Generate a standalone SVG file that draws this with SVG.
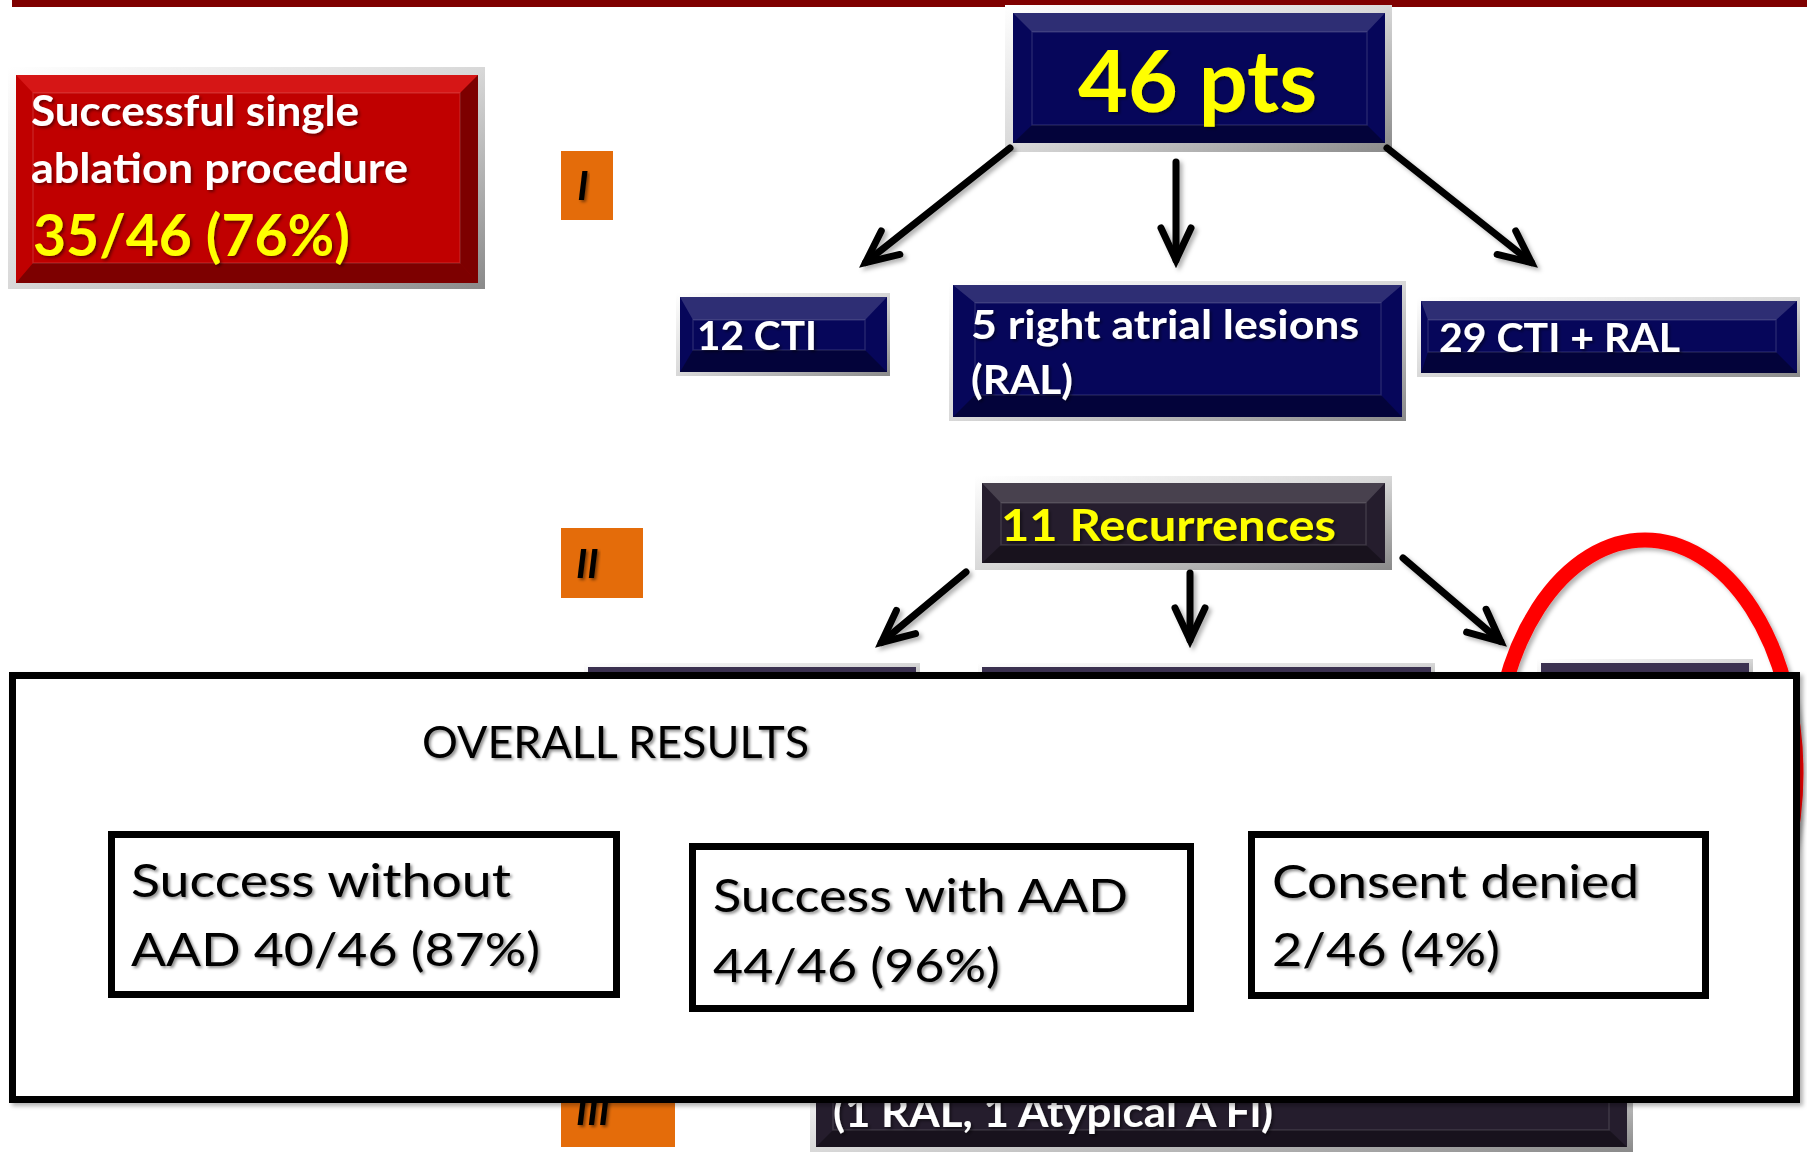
<svg xmlns="http://www.w3.org/2000/svg" width="1807" height="1152" viewBox="0 0 1807 1152">
<style>
.frame{fill:url(#silver);}
.navy{fill:#06065a;}
.dark{fill:#251d2d;}
.purple{fill:#3b3150;}
.red{fill:#c00000;}
.hi{fill:#ffffff;fill-opacity:0.16;}
.lo{fill:#000000;fill-opacity:0.35;}
.bev{fill:none;stroke:#ffffff;stroke-opacity:0.12;stroke-width:1.5;}
.bt{font-family:Lato,"Open Sans","Liberation Sans",sans-serif;font-weight:700;}
.rt{font-family:Lato,"Open Sans","Liberation Sans",sans-serif;font-weight:400;fill:#000;}
.w{fill:#ffffff;}
.y{fill:#ffff00;}
.orange{fill:#e46c0a;}
.num{font-family:Lato,"Open Sans","Liberation Sans",sans-serif;font-weight:700;font-style:italic;fill:#000;font-size:40px;}
.res{fill:#fff;stroke:#000;stroke-width:7;}
</style>
<defs>
<linearGradient id="silver" x1="0" y1="0" x2="1" y2="1">
<stop offset="0" stop-color="#ffffff"/>
<stop offset="0.5" stop-color="#d8d8d8"/>
<stop offset="1" stop-color="#8a8a8a"/>
</linearGradient>
<filter id="ts" x="-10%" y="-20%" width="120%" height="150%">
<feDropShadow dx="2" dy="2" stdDeviation="1.5" flood-color="#000" flood-opacity="0.45"/>
</filter>
<filter id="bs" x="-5%" y="-5%" width="110%" height="115%">
<feDropShadow dx="3" dy="3" stdDeviation="2" flood-color="#000" flood-opacity="0.3"/>
</filter>
<marker id="arr" markerUnits="userSpaceOnUse" viewBox="-45 -25 55 50" markerWidth="55" markerHeight="50" refX="0" refY="0" orient="auto" overflow="visible">
<path d="M-32,-15 L0,0 L-32,15" fill="none" stroke="#000" stroke-width="7" stroke-linejoin="miter" stroke-linecap="round"/>
</marker>
</defs>

<rect x="0" y="0" width="1807" height="1152" fill="#ffffff"/>
<rect id="topbar" x="12" y="0" width="1795" height="7" fill="#7f0000"/>

<g id="n-success-single">
<rect class="frame" x="8" y="67" width="477" height="222"/>
<rect class="red" x="16" y="75" width="462" height="208"/>
<polygon points="16,75 478,75 460,93 33,93" fill="#ff4040" fill-opacity="0.35"/>
<polygon points="16,283 478,283 460,263 33,263" class="lo" fill-opacity="0.25"/>
<polygon points="478,75 478,283 460,263 460,93" class="lo" fill-opacity="0.15"/>
<rect class="bev" x="33" y="93" width="427" height="170"/>
<text class="bt w" x="31" y="126" font-size="42" textLength="328" lengthAdjust="spacingAndGlyphs" filter="url(#ts)">Successful single</text>
<text class="bt w" x="31" y="183" font-size="42" textLength="377" lengthAdjust="spacingAndGlyphs" filter="url(#ts)">ablation procedure</text>
<text class="bt y" x="33" y="256" font-size="57" textLength="317" lengthAdjust="spacingAndGlyphs" filter="url(#ts)">35/46 (76%)</text>
</g>

<g id="lbl-I">
<rect class="orange" x="561" y="151" width="52" height="69"/>
<text class="num" x="583" y="200" text-anchor="middle" filter="url(#ts)">I</text>
</g>
<g id="lbl-II">
<rect class="orange" x="561" y="528" width="82" height="70"/>
<text class="num" x="576" y="578" filter="url(#ts)">II</text>
</g>
<g id="lbl-III">
<rect class="orange" x="561" y="1077" width="114" height="70"/>
<text class="num" x="576" y="1125" filter="url(#ts)">III</text>
</g>

<g id="n-46pts">
<rect class="frame" x="1005" y="5" width="387" height="147"/>
<rect class="navy" x="1013" y="13" width="372" height="130"/>
<polygon class="hi" points="1013,13 1385,13 1367,32 1032,32"/>
<polygon class="lo" points="1013,143 1385,143 1367,125 1032,125"/>
<rect class="bev" x="1032" y="32" width="335" height="93"/>
<text class="bt y" x="1078" y="112" font-size="86" textLength="239" lengthAdjust="spacingAndGlyphs" filter="url(#ts)">46 pts</text>
</g>

<g id="n-12cti">
<rect class="frame" x="676" y="293" width="214" height="83"/>
<rect class="navy" x="680" y="297" width="207" height="75"/>
<polygon class="hi" points="680,297 887,297 865,320 693,320"/>
<polygon class="lo" points="680,372 887,372 865,350 693,350"/>
<rect class="bev" x="693" y="320" width="172" height="30"/>
<text class="bt w" x="697" y="350" font-size="40" textLength="120" lengthAdjust="spacingAndGlyphs" filter="url(#ts)">12 CTI</text>
</g>

<g id="n-5ral">
<rect class="frame" x="949" y="281" width="457" height="140"/>
<rect class="navy" x="953" y="285" width="449" height="132"/>
<polygon class="hi" points="953,285 1402,285 1381,303 975,303"/>
<polygon class="lo" points="953,417 1402,417 1381,395 975,395"/>
<rect class="bev" x="975" y="303" width="406" height="92"/>
<text class="bt w" x="971" y="339" font-size="40" textLength="388" lengthAdjust="spacingAndGlyphs" filter="url(#ts)">5 right atrial lesions</text>
<text class="bt w" x="971" y="394" font-size="40" textLength="102" lengthAdjust="spacingAndGlyphs" filter="url(#ts)">(RAL)</text>
</g>

<g id="n-29cti">
<rect class="frame" x="1417" y="297" width="383" height="80"/>
<rect class="navy" x="1421" y="301" width="376" height="72"/>
<polygon class="hi" points="1421,301 1797,301 1776,320 1428,320"/>
<polygon class="lo" points="1421,373 1797,373 1776,352 1428,352"/>
<rect class="bev" x="1428" y="320" width="348" height="32"/>
<text class="bt w" x="1439" y="352" font-size="40" textLength="241" lengthAdjust="spacingAndGlyphs" filter="url(#ts)">29 CTI + RAL</text>
</g>

<g id="n-11rec">
<rect class="frame" x="975" y="476" width="417" height="94"/>
<rect class="dark" x="982" y="483" width="403" height="80"/>
<polygon class="hi" points="982,483 1385,483 1366,503 1001,503"/>
<polygon class="lo" points="982,563 1385,563 1366,545 1001,545"/>
<rect class="bev" x="1001" y="503" width="365" height="42"/>
<text class="bt y" x="1001" y="541" font-size="44" textLength="335" lengthAdjust="spacingAndGlyphs" filter="url(#ts)">11 Recurrences</text>
</g>

<g id="n-II-left">
<rect class="frame" x="584" y="663" width="336" height="40"/>
<rect class="purple" x="588" y="667" width="328" height="34"/>
</g>
<g id="n-II-mid">
<rect class="frame" x="978" y="663" width="457" height="40"/>
<rect class="purple" x="982" y="667" width="449" height="34"/>
</g>
<g id="n-II-right">
<rect class="frame" x="1537" y="659" width="216" height="44"/>
<rect class="purple" x="1541" y="663" width="208" height="38"/>
</g>

<g id="n-III">
<rect class="frame" x="810" y="1070" width="823" height="82"/>
<rect class="dark" x="816" y="1076" width="811" height="71"/>
<polygon class="lo" points="816,1147 1627,1147 1609,1130 833,1130"/>
<rect class="bev" x="833" y="1090" width="776" height="40"/>
<text class="bt w" x="833" y="1127" font-size="42" textLength="440" lengthAdjust="spacingAndGlyphs" filter="url(#ts)">(1 RAL, 1 Atypical A Fl)</text>
</g>

<g id="connectors" fill="none" stroke="#000" stroke-width="7" stroke-linecap="round" filter="url(#bs)">
<line x1="1010" y1="148" x2="865.5" y2="262.6" marker-end="url(#arr)"/>
<line x1="1176" y1="162" x2="1176" y2="260" marker-end="url(#arr)"/>
<line x1="1387" y1="148" x2="1531.5" y2="262.6" marker-end="url(#arr)"/>
<line x1="966" y1="572" x2="881.4" y2="642.5" marker-end="url(#arr)"/>
<line x1="1190" y1="573" x2="1190" y2="640" marker-end="url(#arr)"/>
<line x1="1403" y1="558" x2="1500.7" y2="641.5" marker-end="url(#arr)"/>
</g>

<ellipse id="highlight" cx="1645" cy="773" rx="151" ry="233" fill="none" stroke="#ff0000" stroke-width="15" filter="url(#bs)"/>

<g id="n-overall">
<rect class="res" x="12.5" y="675.5" width="1784" height="424" filter="url(#bs)"/>
<text class="rt" x="422" y="758" font-size="44" textLength="387" lengthAdjust="spacingAndGlyphs" filter="url(#ts)">OVERALL RESULTS</text>
</g>

<g id="n-without">
<rect class="res" x="111.5" y="834.5" width="505" height="160"/>
<text class="rt" x="131" y="897" font-size="47" textLength="380" lengthAdjust="spacingAndGlyphs" filter="url(#ts)">Success without</text>
<text class="rt" x="131" y="966" font-size="47" textLength="409" lengthAdjust="spacingAndGlyphs" filter="url(#ts)">AAD 40/46 (87%)</text>
</g>

<g id="n-with">
<rect class="res" x="692.5" y="846.5" width="498" height="162"/>
<text class="rt" x="713" y="912" font-size="47" textLength="415" lengthAdjust="spacingAndGlyphs" filter="url(#ts)">Success with AAD</text>
<text class="rt" x="713" y="982" font-size="47" textLength="287" lengthAdjust="spacingAndGlyphs" filter="url(#ts)">44/46 (96%)</text>
</g>

<g id="n-denied">
<rect class="res" x="1251.5" y="834.5" width="454" height="161"/>
<text class="rt" x="1272" y="898" font-size="47" textLength="367" lengthAdjust="spacingAndGlyphs" filter="url(#ts)">Consent denied</text>
<text class="rt" x="1272" y="966" font-size="47" textLength="228" lengthAdjust="spacingAndGlyphs" filter="url(#ts)">2/46 (4%)</text>
</g>
</svg>
